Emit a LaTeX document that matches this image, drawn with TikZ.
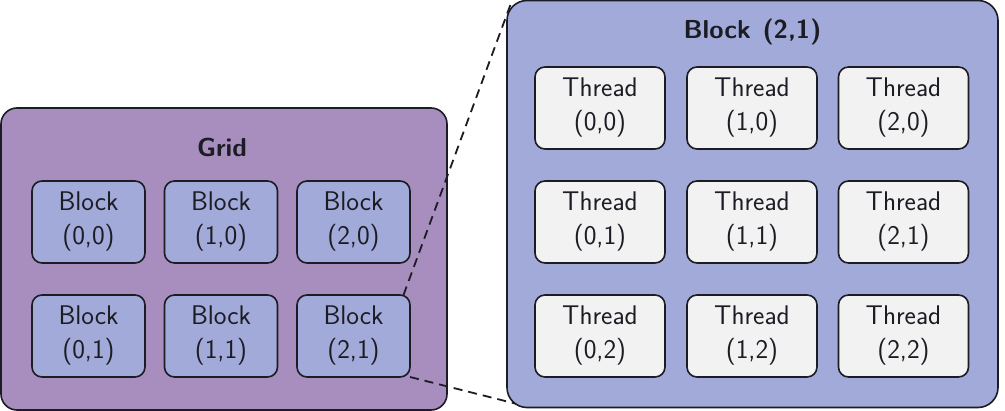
\documentclass[tikz,border=0pt]{standalone}
\usepackage{fontspec}
\definecolor{gridfill}{RGB}{167,142,190}
\definecolor{blockfill}{RGB}{161,170,216}
\definecolor{threadfill}{RGB}{242,242,242}
\definecolor{edgecol}{RGB}{28,28,36}
\begin{document}
\begin{tikzpicture}[x=1pt,y=-1pt,
  every node/.style={font=\sffamily\fontsize{27}{34}\selectfont, text=edgecol, inner sep=0pt, outer sep=0pt},
  outerbox/.style={draw=edgecol, line width=1.6pt, rounded corners=#1},
  gridbox/.style={outerbox=16pt, fill=gridfill, minimum width=446pt, minimum height=302pt},
  bigbox/.style={outerbox=20pt, fill=blockfill, minimum width=491pt, minimum height=407pt},
  blockbox/.style={outerbox=10pt, fill=blockfill, minimum width=113pt, minimum height=82pt, align=center},
  threadbox/.style={outerbox=10pt, fill=threadfill, minimum width=130pt, minimum height=82pt, align=center},
  titletext/.style={font=\sffamily\bfseries\fontsize{26}{33}\selectfont},
  zoomline/.style={draw=edgecol, line width=1.8pt, dash pattern=on 9pt off 6pt}
]
\useasboundingbox (0,0) rectangle (1005,411);

% Grid
\node[gridbox] (grid) at (224,259) {};
\node[titletext] (gridtitle) at (222,147) {Grid};
\node[blockbox] (b00) at (88.5,222) {Block\\(0,0)};
\node[blockbox] (b10) at (221,222) {Block\\(1,0)};
\node[blockbox] (b20) at (353.5,222) {Block\\(2,0)};
\node[blockbox] (b01) at (88.5,336) {Block\\(0,1)};
\node[blockbox] (b11) at (221,336) {Block\\(1,1)};
\node[blockbox] (b21) at (353.5,336) {Block\\(2,1)};

% zoom lines (drawn beneath the enlarged block)
\path (752.5,204) node[bigbox, draw=none, fill=none] (big) {};
\draw[zoomline] ([xshift=-6.5pt]b21.north east) -- ([xshift=5pt]big.north west);
\draw[zoomline] (b21.south east) -- ([xshift=20pt,yshift=1pt]big.south west);

% Enlarged block
\node[bigbox] (bigdraw) at (752.5,204) {};
\node[titletext] (bigtitle) at (752.5,32) {Block\hspace{0.45em}(2,1)};
\node[threadbox] (t00) at (600,108) {Thread\\(0,0)};
\node[threadbox] (t10) at (752,108) {Thread\\(1,0)};
\node[threadbox] (t20) at (903.5,108) {Thread\\(2,0)};
\node[threadbox] (t01) at (600,222) {Thread\\(0,1)};
\node[threadbox] (t11) at (752,222) {Thread\\(1,1)};
\node[threadbox] (t21) at (903.5,222) {Thread\\(2,1)};
\node[threadbox] (t02) at (600,336) {Thread\\(0,2)};
\node[threadbox] (t12) at (752,336) {Thread\\(1,2)};
\node[threadbox] (t22) at (903.5,336) {Thread\\(2,2)};
\end{tikzpicture}
\end{document}
